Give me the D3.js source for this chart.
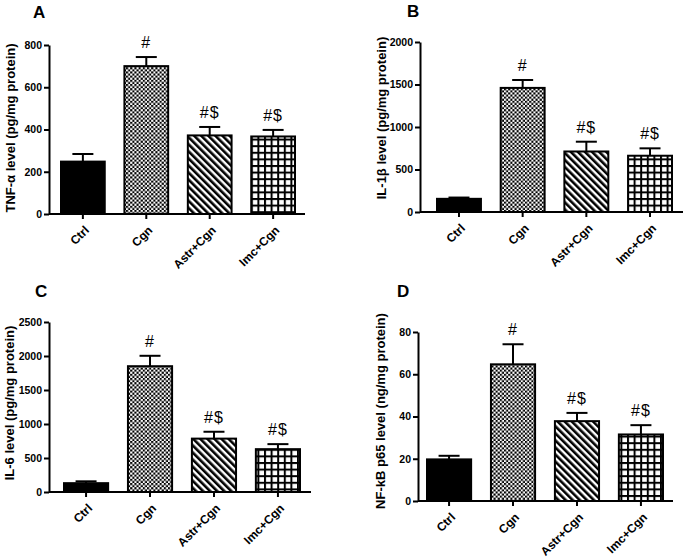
<!DOCTYPE html>
<html><head><meta charset="utf-8">
<script src="https://cdn.jsdelivr.net/npm/d3@7"></script>
<style>
body{margin:0;background:#fff}
svg{display:block}
text{font-family:"Liberation Sans",Arial,Helvetica,sans-serif}
</style>
</head><body>
<svg id="chart" width="685" height="559"></svg>
<script>
// ---------- data ----------
const categories = ["Ctrl", "Cgn", "Astr+Cgn", "Imc+Cgn"];
const sigLabels = ["", "#", "#$", "#$"];

const tnfValues = [248, 700, 372, 367];
const tnfErrors = [36, 43, 40, 31];
const tnfTicks = [0, 200, 400, 600, 800];

const il1bValues = [155, 1460, 712, 662];
const il1bErrors = [15, 93, 115, 87];
const il1bTicks = [0, 500, 1000, 1500, 2000];

const il6Values = [130, 1850, 785, 630];
const il6Errors = [27, 153, 101, 74];
const il6Ticks = [0, 500, 1000, 1500, 2000, 2500];

const nfkbValues = [19.7, 64.7, 37.8, 31.5];
const nfkbErrors = [1.7, 9.5, 3.9, 4.4];
const nfkbTicks = [0, 20, 40, 60, 80];

const panelLetters = ["A", "B", "C", "D"];
const yTitles = ["TNF-\u03B1 level (pg/mg protein)", "IL-1\u03B2 level (pg/mg protein)",
                 "IL-6 level (pg/mg protein)", "NF-kB p65 level (ng/mg protein)"];

// ---------- layout (positions only) ----------
const layouts = [
  {axisX: 49,  axisEnd: 305, yTop: 45,  y0: 214, bars: [61, 295],  titleX: 10,  titleY: 128, letterX: 33,  letterY: 18},
  {axisX: 420, axisEnd: 683, yTop: 42,  y0: 212, bars: [437, 672], titleX: 381, titleY: 118, letterX: 407, letterY: 17},
  {axisX: 49,  axisEnd: 311, yTop: 322, y0: 492, bars: [64, 300],  titleX: 9,   titleY: 403, letterX: 35,  letterY: 297},
  {axisX: 418, axisEnd: 673, yTop: 332, y0: 501, bars: [427, 663], titleX: 380, titleY: 411, letterX: 397, letterY: 297}
];

const panels = [
  {values: tnfValues, errors: tnfErrors, ticks: tnfTicks},
  {values: il1bValues, errors: il1bErrors, ticks: il1bTicks},
  {values: il6Values, errors: il6Errors, ticks: il6Ticks},
  {values: nfkbValues, errors: nfkbErrors, ticks: nfkbTicks}
];

const svg = d3.select("#chart");
const defs = svg.append("defs");

// checkerboard
const pc = defs.append("pattern").attr("id", "checker").attr("patternUnits", "userSpaceOnUse")
  .attr("width", 4.2).attr("height", 4.2);
pc.append("rect").attr("width", 4.2).attr("height", 4.2).attr("fill", "#fff");
pc.append("rect").attr("width", 2.1).attr("height", 2.1).attr("fill", "#000");
pc.append("rect").attr("x", 2.1).attr("y", 2.1).attr("width", 2.1).attr("height", 2.1).attr("fill", "#000");

// diagonal stripes "\"
const pd = defs.append("pattern").attr("id", "diag").attr("patternUnits", "userSpaceOnUse")
  .attr("width", 5).attr("height", 10).attr("patternTransform", "rotate(-45)");
pd.append("rect").attr("width", 5).attr("height", 10).attr("fill", "#fff");
pd.append("rect").attr("width", 2.6).attr("height", 10).attr("fill", "#000");

// grid
const pg = defs.append("pattern").attr("id", "grid").attr("patternUnits", "userSpaceOnUse")
  .attr("width", 6.6).attr("height", 6.6);
pg.append("rect").attr("width", 6.6).attr("height", 6.6).attr("fill", "#000");
pg.append("rect").attr("x", 2).attr("y", 2).attr("width", 4.6).attr("height", 4.6).attr("fill", "#fff");

const fills = ["#000", "url(#checker)", "url(#diag)", "url(#grid)"];

panels.forEach((p, i) => {
  const L = layouts[i];
  const g = svg.append("g");
  const x = d3.scaleBand().domain(categories).range(L.bars).paddingInner(0.31).paddingOuter(0);
  const y = d3.scaleLinear().domain([0, p.ticks[p.ticks.length - 1]]).range([L.y0, L.yTop]);

  // bars
  g.selectAll("rect.bar").data(categories).join("rect")
    .attr("class", "bar")
    .attr("x", d => x(d)).attr("width", x.bandwidth())
    .attr("y", (d, j) => y(p.values[j])).attr("height", (d, j) => L.y0 - y(p.values[j]))
    .attr("fill", (d, j) => fills[j])
    .attr("stroke", "#000").attr("stroke-width", 2);

  // error bars (upper)
  categories.forEach((c, j) => {
    const cx = x(c) + x.bandwidth() / 2;
    const top = y(p.values[j] + p.errors[j]);
    g.append("line").attr("x1", cx).attr("x2", cx).attr("y1", y(p.values[j])).attr("y2", top)
      .attr("stroke", "#000").attr("stroke-width", 2);
    g.append("line").attr("x1", cx - 10.5).attr("x2", cx + 10.5).attr("y1", top).attr("y2", top)
      .attr("stroke", "#000").attr("stroke-width", 2);
    if (sigLabels[j]) {
      g.append("text").attr("x", cx).attr("y", top - 9).attr("text-anchor", "middle")
        .attr("font-size", 16).attr("letter-spacing", 1).text(sigLabels[j]);
    }
  });

  // y axis
  const ya = g.append("g").attr("transform", `translate(${L.axisX},0)`)
    .call(d3.axisLeft(y).tickValues(p.ticks).tickFormat(d3.format("d")).tickSize(5).tickSizeOuter(0).tickPadding(2));
  ya.select(".domain").attr("stroke-width", 2);
  ya.selectAll(".tick line").attr("stroke-width", 2);
  ya.selectAll("text").attr("font-size", 10.5).attr("font-weight", "bold").attr("font-family", null);

  // x axis
  const xa = g.append("g").attr("transform", `translate(0,${L.y0})`)
    .call(d3.axisBottom(x).tickSize(5).tickSizeOuter(0));
  xa.select(".domain").remove();
  xa.selectAll(".tick line").attr("stroke-width", 2);
  xa.selectAll("text").attr("font-size", 12).attr("font-weight", "bold").attr("font-family", null)
    .attr("x", 0).attr("y", 0).attr("dy", "0.35em").attr("text-anchor", "end")
    .attr("transform", "translate(4,14) rotate(-45)");
  g.append("line").attr("x1", L.axisX).attr("x2", L.axisEnd).attr("y1", L.y0).attr("y2", L.y0)
    .attr("stroke", "#000").attr("stroke-width", 2);

  // y title
  g.append("text").attr("transform", `translate(${L.titleX},${L.titleY}) rotate(-90)`)
    .attr("text-anchor", "middle").attr("dy", "0.35em")
    .attr("font-size", 13).attr("font-weight", "bold").text(yTitles[i]);

  // panel letter
  g.append("text").attr("x", L.letterX).attr("y", L.letterY)
    .attr("font-size", 17).attr("font-weight", "bold").text(panelLetters[i]);
});
</script>
</body></html>
